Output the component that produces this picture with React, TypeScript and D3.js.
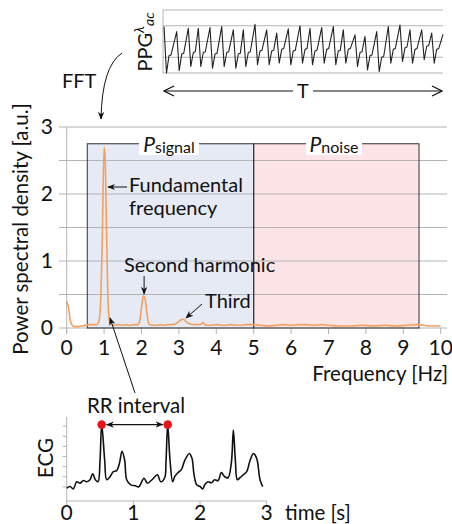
import * as d3 from "d3";

// power spectrum (Hz, a.u.)
const specF = [0, 0.05, 0.1, 0.15, 0.2, 0.3, 0.4, 0.5, 0.6, 0.7, 0.8, 0.85, 0.9, 0.95, 1.0, 1.03, 1.06, 1.1, 1.15, 1.2, 1.3, 1.4, 1.5, 1.6, 1.7, 1.8, 1.9, 1.95, 2.0, 2.05, 2.1, 2.15, 2.2, 2.3, 2.4, 2.5, 2.6, 2.7, 2.8, 2.9, 3.0, 3.05, 3.1, 3.15, 3.2, 3.3, 3.4, 3.5, 3.6, 3.65, 3.7, 3.8, 4.0, 4.2, 4.4, 4.6, 4.8, 5.0, 5.2, 5.4, 5.6, 5.8, 6.0, 6.2, 6.4, 6.6, 6.8, 7.0, 7.3, 7.6, 7.9, 8.2, 8.5, 8.8, 9.1, 9.4, 9.7, 10];
const specP = [0.4, 0.3, 0.1, 0.04, 0.02, 0.02, 0.03, 0.04, 0.05, 0.05, 0.05, 0.08, 0.3, 1.3, 2.7, 2.5, 1.6, 0.5, 0.08, 0.05, 0.04, 0.05, 0.04, 0.05, 0.04, 0.05, 0.05, 0.1, 0.3, 0.48, 0.42, 0.2, 0.06, 0.04, 0.04, 0.05, 0.04, 0.05, 0.05, 0.06, 0.1, 0.12, 0.13, 0.12, 0.09, 0.06, 0.05, 0.05, 0.06, 0.08, 0.05, 0.04, 0.05, 0.04, 0.05, 0.04, 0.05, 0.05, 0.04, 0.03, 0.04, 0.05, 0.04, 0.05, 0.05, 0.04, 0.05, 0.04, 0.03, 0.03, 0.04, 0.03, 0.04, 0.03, 0.04, 0.05, 0.03, 0.03];
const xTicks = [0, 1, 2, 3, 4, 5, 6, 7, 8, 9, 10];
const yTicks = [0, 1, 2, 3];
const yGrid = [0, 0.5, 1, 1.5, 2, 2.5, 3];

// frequency bands
const signalBand = [0.55, 5];
const noiseBand = [5, 9.42];
const bandTop = 2.75;

// PPG beats: peak time, peak value, trough after peak, notch on the upstroke
const ppgT = [0.1, 1.37, 2.53, 3.53, 4.7, 5.87, 7.03, 8.03, 9.2, 10.37, 11.37, 12.53, 13.7, 14.7, 15.87, 17.03, 18.03, 19.2, 20.2, 21.37, 22.53, 23.7, 24.7, 25.87, 26.87];
const ppgPeak = [2.95, 2.63, 2.84, 2.84, 2.88, 2.95, 2.74, 2.74, 3.09, 2.74, 2.53, 2.8, 3.0, 2.84, 2.88, 2.95, 2.74, 2.42, 2.32, 2.63, 2.95, 3.05, 2.74, 2.74, 2.53];
const ppgTrough = [0.0, 0.15, 0.42, 0.42, 0.3, 0.42, 0.3, 0.42, 0.53, 0.53, 0.63, 0.53, 0.63, 0.53, 0.63, 0.53, 0.63, 0.42, 0.2, 0.1, 0.63, 0.74, 0.63, 0.84, 0.63];
const ppgNotch = [1.1, 1.2, 1.3, 1.3, 1.2, 1.3, 1.2, 1.3, 1.4, 1.4, 1.5, 1.4, 1.5, 1.4, 1.5, 1.4, 1.5, 1.3, 1.1, 1.0, 1.5, 1.6, 1.5, 1.7, 1.5];
const ppgEnd = [28, 2.45];

// ECG (time s, amplitude)
const ecgT = [0, 0.05, 0.1, 0.15, 0.2, 0.25, 0.3, 0.35, 0.39, 0.43, 0.47, 0.5, 0.525, 0.57, 0.6, 0.65, 0.7, 0.75, 0.79, 0.83, 0.87, 0.9, 0.96, 1.03, 1.08, 1.16, 1.21, 1.28, 1.36, 1.41, 1.47, 1.49, 1.515, 1.55, 1.59, 1.62, 1.67, 1.72, 1.77, 1.84, 1.88, 1.91, 1.95, 2.0, 2.04, 2.07, 2.12, 2.17, 2.22, 2.27, 2.32, 2.37, 2.42, 2.47, 2.5, 2.53, 2.56, 2.6, 2.65, 2.7, 2.75, 2.8, 2.85, 2.9, 2.94];
const ecgV = [-0.13, 0.03, -0.2, 0.5, 0.36, 0.62, 0.5, 0.7, 1.3, 0.7, 0.5, 2.6, 6.15, 2.6, 0.7, 1.0, 1.5, 1.6, 2.3, 3.5, 2.6, 0.7, 0.2, 0.1, 0.0, 0.85, 0.36, 0.7, 1.2, 0.5, 0.9, 2.6, 6.15, 2.6, 0.5, 1.0, 1.4, 1.7, 2.6, 3.3, 2.8, 1.2, 0.2, 0.03, -0.2, 0.2, 0.5, 0.4, 0.7, 0.6, 1.4, 1.0, 0.9, 2.4, 5.6, 2.6, 0.7, 0.9, 1.2, 1.5, 2.6, 3.3, 2.8, 0.7, 0.03];
const rPeaks = [0.525, 1.515];
const ecgXTicks = [0, 1, 2, 3];
const ecgYTicks = [0, 1, 2, 3, 4, 5, 6];

const FONT = "Lato, 'Open Sans', sans-serif";
const GRID = "#b4b4b4";
const ORANGE = "#f2a060";

export default function App() {
  const W = 452;
  const H = 524;

  // main spectrum scales
  const x = d3.scaleLinear().domain([0, 10]).range([66.7, 440.7]);
  const y = d3.scaleLinear().domain([0, 3]).range([328, 127]);

  // PPG inset
  const xP = d3.scaleLinear().domain([0, 28]).range([163, 443]);
  const yP = d3.scaleLinear().domain([0, 4]).range([73, 10]);

  // ECG inset
  const xE = d3.scaleLinear().domain([0, 3]).range([66.7, 266.7]);
  const yE = d3.scaleLinear().domain([-1.4, 6.9]).range([501, 417]);

  const specLine = d3
    .line<number>()
    .x((_, i) => x(specF[i]))
    .y((d) => y(d))
    .curve(d3.curveMonotoneX)(specP);

  const ppgPts: [number, number][] = [];
  ppgT.forEach((t, i) => {
    ppgPts.push([t, ppgPeak[i]]);
    ppgPts.push([t + 0.25, ppgTrough[i]]);
    ppgPts.push([t + 0.5, ppgNotch[i]]);
    ppgPts.push([t + 0.7, ppgNotch[i] + 0.05]);
  });
  ppgPts.push(ppgEnd as [number, number]);
  const ppgLine = d3
    .line<[number, number]>()
    .x((d) => xP(d[0]))
    .y((d) => yP(d[1]))(ppgPts);

  const ecgLine = d3
    .line<number>()
    .x((_, i) => xE(ecgT[i]))
    .y((d) => yE(d))
    .curve(d3.curveCatmullRom.alpha(0.5))(ecgV);

  const rY = yE(6.15);

  return (
    <svg
      width={W}
      height={H}
      style={{ position: "absolute", left: 0, top: 0, background: "#fff" }}
      fontFamily={FONT}
    >
      <defs>
        <marker id="ah" viewBox="0 0 10 10" refX="9" refY="5" markerWidth="8" markerHeight="8" orient="auto-start-reverse" markerUnits="userSpaceOnUse">
          <path d="M0,1 L10,5 L0,9 L3,5 Z" fill="#111" />
        </marker>
        <marker id="open" viewBox="0 0 12 12" refX="11" refY="6" markerWidth="12" markerHeight="12" orient="auto-start-reverse" markerUnits="userSpaceOnUse">
          <path d="M1,1 L11,6 L1,11" fill="none" stroke="#111" strokeWidth="1.2" />
        </marker>
      </defs>

      {/* PPG inset */}
      {[0, 1, 2, 3, 4].map((v) => (
        <line key={v} x1={xP(0)} x2={xP(28)} y1={yP(v)} y2={yP(v)} stroke={GRID} strokeWidth={1} />
      ))}
      <line x1={xP(0)} x2={xP(0)} y1={yP(0)} y2={yP(4)} stroke={GRID} />
      <path d={ppgLine ?? ""} fill="none" stroke="#222" strokeWidth={1.1} strokeLinejoin="round" />
      <text transform="translate(152,42) rotate(-90)" textAnchor="middle" fontSize={20} fill="#111">
        PPG
        <tspan fontSize={14} fontStyle="italic" dy={-8}>λ</tspan>
        <tspan fontSize={14} fontStyle="italic" dy={10}>ac</tspan>
      </text>
      <line x1={xP(0) + 1} x2={293} y1={91} y2={91} stroke="#111" strokeWidth={1.2} markerStart="url(#open)" />
      <line x1={313} x2={xP(28) - 1} y1={91} y2={91} stroke="#111" strokeWidth={1.2} markerEnd="url(#open)" />
      <text x={303} y={98} textAnchor="middle" fontSize={20} fill="#111">T</text>

      {/* FFT arrow */}
      <text x={62} y={88} fontSize={20} fill="#111">FFT</text>
      <path d="M122,53 Q102,66 101,119" fill="none" stroke="#111" strokeWidth={1} markerEnd="url(#ah)" />

      {/* bands */}
      <rect x={x(signalBand[0])} y={y(bandTop)} width={x(signalBand[1]) - x(signalBand[0])} height={y(0) - y(bandTop)} fill="#e6eaf4" />
      <rect x={x(noiseBand[0])} y={y(bandTop)} width={x(noiseBand[1]) - x(noiseBand[0])} height={y(0) - y(bandTop)} fill="#fde5e7" />

      {/* grid */}
      {yGrid.map((v) => (
        <line key={v} x1={59} x2={447} y1={y(v)} y2={y(v)} stroke={GRID} strokeWidth={1} />
      ))}
      <line x1={x(0)} x2={x(0)} y1={y(3)} y2={y(0) + 6} stroke={GRID} />
      {xTicks.map((v) => (
        <line key={v} x1={x(v)} x2={x(v)} y1={y(0)} y2={y(0) + 6} stroke={GRID} />
      ))}

      <rect x={x(signalBand[0])} y={y(bandTop)} width={x(signalBand[1]) - x(signalBand[0])} height={y(0) - y(bandTop)} fill="none" stroke="#333" strokeWidth={1} />
      <rect x={x(noiseBand[0])} y={y(bandTop)} width={x(noiseBand[1]) - x(noiseBand[0])} height={y(0) - y(bandTop)} fill="none" stroke="#333" strokeWidth={1} />

      {/* band labels */}
      <rect x={139} y={133} width={60} height={22} fill="#fff" />
      <text x={169} y={152} textAnchor="middle" fill="#111">
        <tspan fontSize={21} fontStyle="italic">P</tspan>
        <tspan fontSize={16} dy={1}>signal</tspan>
      </text>
      <rect x={306} y={133} width={56} height={22} fill="#fff" />
      <text x={334} y={152} textAnchor="middle" fill="#111">
        <tspan fontSize={21} fontStyle="italic">P</tspan>
        <tspan fontSize={16} dy={1}>noise</tspan>
      </text>

      {/* spectrum */}
      <path d={specLine ?? ""} fill="none" stroke={ORANGE} strokeWidth={1.6} />

      {/* axis labels */}
      {yTicks.map((v) => (
        <text key={v} x={53} y={y(v) + 7} textAnchor="end" fontSize={21} fill="#111">{v}</text>
      ))}
      {xTicks.map((v) => (
        <text key={v} x={x(v)} y={355} textAnchor="middle" fontSize={21} fill="#111">{v}</text>
      ))}
      <text x={448} y={381} textAnchor="end" fontSize={20.5} fill="#111">Frequency [Hz]</text>
      <text transform="translate(28,229) rotate(-90)" textAnchor="middle" fontSize={20.5} fill="#111">Power spectral density [a.u.]</text>

      {/* annotations */}
      <text x={129} y={192} fontSize={20} fill="#111">Fundamental</text>
      <text x={129} y={215} fontSize={20} fill="#111">frequency</text>
      <line x1={127} x2={108} y1={187} y2={187} stroke="#111" strokeWidth={1} markerEnd="url(#ah)" />
      <text x={124} y={272} fontSize={20} fill="#111">Second harmonic</text>
      <line x1={x(2.07)} x2={x(2.07)} y1={276} y2={294} stroke="#111" strokeWidth={1} markerEnd="url(#ah)" />
      <text x={205} y={308} fontSize={20} fill="#111">Third</text>
      <line x1={202} x2={186} y1={304} y2={318} stroke="#111" strokeWidth={1} markerEnd="url(#ah)" />

      {/* RR -> spectrum arrow */}
      <line x1={135} x2={110} y1={393} y2={318} stroke="#111" strokeWidth={1} markerEnd="url(#ah)" />

      {/* ECG inset */}
      <line x1={xE(0)} x2={xE(0)} y1={417} y2={yE(-1.4)} stroke={GRID} />
      <line x1={xE(0)} x2={xE(3)} y1={yE(-1.4)} y2={yE(-1.4)} stroke={GRID} />
      {ecgYTicks.map((v) => (
        <line key={v} x1={xE(0) - 4} x2={xE(0)} y1={yE(v)} y2={yE(v)} stroke={GRID} />
      ))}
      {ecgXTicks.map((v) => (
        <line key={v} x1={xE(v)} x2={xE(v)} y1={yE(-1.4)} y2={yE(-1.4) + 5} stroke={GRID} />
      ))}
      <path d={ecgLine ?? ""} fill="none" stroke="#111" strokeWidth={1.6} />
      <line x1={xE(rPeaks[0]) + 5} x2={xE(rPeaks[1]) - 5} y1={rY} y2={rY} stroke="#111" strokeWidth={1.2} markerStart="url(#ah)" markerEnd="url(#ah)" />
      {rPeaks.map((t) => (
        <circle key={t} cx={xE(t)} cy={rY} r={4.3} fill="#e8141b" />
      ))}
      <text x={136} y={413} textAnchor="middle" fontSize={20.5} fill="#111">RR interval</text>
      {ecgXTicks.map((v) => (
        <text key={v} x={xE(v)} y={520} textAnchor="middle" fontSize={21} fill="#111">{v}</text>
      ))}
      <text x={285} y={520} fontSize={20.5} fill="#111">time [s]</text>
      <text transform="translate(53,458) rotate(-90)" textAnchor="middle" fontSize={20.5} fill="#111">ECG</text>
    </svg>
  );
}
